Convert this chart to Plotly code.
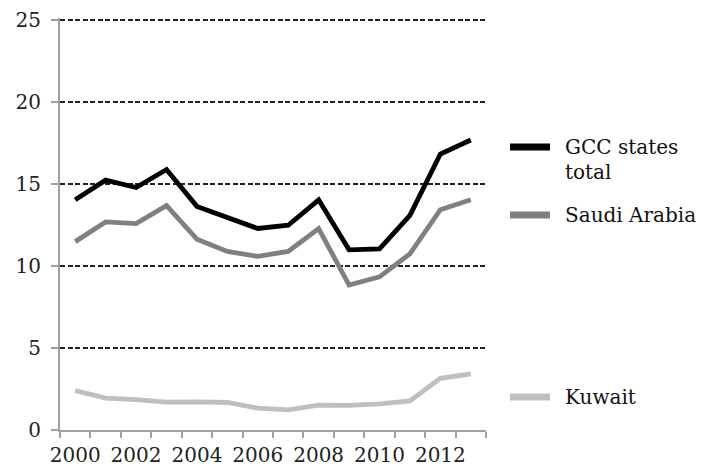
import plotly.graph_objects as go

years = list(range(2000, 2014))
gcc_total = [14.05, 15.25, 14.8, 15.9, 13.65, 12.95, 12.3, 12.5, 14.05, 11.0, 11.05, 13.1, 16.85, 17.7]
saudi = [11.5, 12.7, 12.6, 13.7, 11.65, 10.9, 10.6, 10.9, 12.3, 8.85, 9.35, 10.75, 13.45, 14.05]
kuwait = [2.4, 1.95, 1.85, 1.7, 1.72, 1.68, 1.33, 1.23, 1.52, 1.5, 1.6, 1.78, 3.15, 3.42]

series = [
    ("GCC states total", gcc_total, "#000000"),
    ("Saudi Arabia", saudi, "#808080"),
    ("Kuwait", kuwait, "#bfbfbf"),
]

FONT = "DejaVu Serif"
FS = 20

fig = go.Figure()
for name, vals, col in series:
    fig.add_trace(go.Scatter(x=years, y=vals, mode="lines", name=name,
                             line=dict(color=col, width=4.8), showlegend=False))

# page body has an 8px default margin; the figure is sized to fit the window
fig.update_layout(
    width=699, height=461,
    margin=dict(l=52, r=221, t=10, b=39),
    plot_bgcolor="white", paper_bgcolor="white",
    font=dict(family=FONT, size=FS, color="#222222"),
    xaxis=dict(
        range=[1999.5, 2013.5], showgrid=False, zeroline=False, automargin=False,
        showline=True, linecolor="#a0a0a0", linewidth=2,
        tickvals=list(range(2000, 2013, 2)), ticks="", ticklabelstandoff=6,
        minor=dict(ticks="outside", tick0=1999.5, dtick=1, ticklen=6,
                   tickcolor="#a0a0a0", tickwidth=2, showgrid=False),
    ),
    yaxis=dict(
        range=[0, 25.15], tickvals=[0, 5, 10, 15, 20, 25], showgrid=True, gridcolor="#222222",
        griddash="5px,2.5px", gridwidth=1.5, zeroline=False, automargin=False,
        showline=True, linecolor="#a0a0a0", linewidth=2,
        ticks="outside", ticklen=7, tickcolor="#a0a0a0", tickwidth=2,
        ticklabelstandoff=6,
    ),
)

legend_items = [
    ("GCC states", "total", "#000000", 147),
    ("Saudi Arabia", None, "#808080", 215),
    ("Kuwait", None, "#bfbfbf", 397),
]

def py(ypix):
    return (430 - ypix) / 412.0

def px(xpix):
    return (xpix - 60) / 426.0

for line1, line2, col, ypix in legend_items:
    fig.add_shape(type="line", xref="paper", yref="paper",
                  x0=px(510), x1=px(550), y0=py(ypix), y1=py(ypix),
                  line=dict(color=col, width=7))
    fig.add_annotation(xref="paper", yref="paper", x=px(563), y=py(ypix),
                       text=line1, showarrow=False, xanchor="left", yanchor="middle",
                       font=dict(family=FONT, size=FS, color="#111111"))
    if line2:
        fig.add_annotation(xref="paper", yref="paper", x=px(563), y=py(ypix + 25),
                           text=line2, showarrow=False, xanchor="left", yanchor="middle",
                           font=dict(family=FONT, size=FS, color="#111111"))

fig.write_html("out.html")
